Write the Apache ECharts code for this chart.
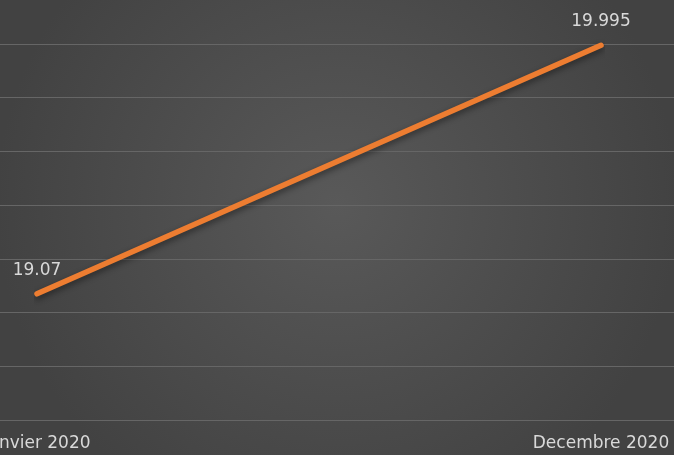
<!DOCTYPE html>
<html><head><meta charset="utf-8">
<script src="https://cdn.jsdelivr.net/npm/echarts@6/dist/echarts.min.js"></script>
<style>html,body{margin:0;padding:0;background:#444;}#c{width:674px;height:455px;}</style>
</head><body><div id="c"></div>
<script>
const categories = ['Janvier 2020', 'Decembre 2020'];
const values = [19.07, 19.995];
const yMin = 18.6, yMax = 20, yStep = 0.2;

const chart = echarts.init(document.getElementById('c'), null, {renderer: 'canvas'});
const fontFam = '"DejaVu Sans", sans-serif';
chart.setOption({
  backgroundColor: {type: 'radial', x: 0.5, y: 0.45, r: 0.75,
    colorStops: [{offset: 0, color: '#595959'}, {offset: 1, color: '#424242'}]},
  animation: false,
  grid: [
    {left: 0, right: 0, top: 44, bottom: 35, containLabel: false, outerBoundsMode: 'none'},
    {left: 37, right: 73, top: 44, bottom: 35, containLabel: false, outerBoundsMode: 'none'}
  ],
  xAxis: [
    {gridIndex: 0, type: 'value', show: false, min: 0, max: 1},
    {gridIndex: 1, type: 'category', data: categories, boundaryGap: false,
     axisLine: {show: false}, axisTick: {show: false}, splitLine: {show: false},
     axisLabel: {color: '#d9d9d9', fontSize: 17, fontFamily: fontFam, margin: 15, interval: 0,
       hideOverlap: false}}
  ],
  yAxis: [
    {gridIndex: 0, type: 'value', min: yMin, max: yMax, interval: yStep,
     axisLabel: {show: false}, axisLine: {show: false}, axisTick: {show: false},
     splitLine: {lineStyle: {color: '#666666', width: 1}}},
    {gridIndex: 1, type: 'value', min: yMin, max: yMax, interval: yStep, show: false,
     splitLine: {show: false}}
  ],
  series: [{
    type: 'line', xAxisIndex: 1, yAxisIndex: 1, data: values,
    symbol: 'circle', symbolSize: 2, showSymbol: true, clip: false,
    itemStyle: {color: 'rgba(237,125,49,0)', borderWidth: 0},
    lineStyle: {color: '#ED7D31', width: 5.5, cap: 'round',
      shadowColor: 'rgba(0,0,0,0.45)', shadowBlur: 6, shadowOffsetY: 3},
    label: {show: true, position: 'top', distance: 14, color: '#d9d9d9',
      fontSize: 17, fontFamily: fontFam,
      formatter: p => String(p.value)},
    labelLayout: {hideOverlap: false}
  }]
});
</script></body></html>
